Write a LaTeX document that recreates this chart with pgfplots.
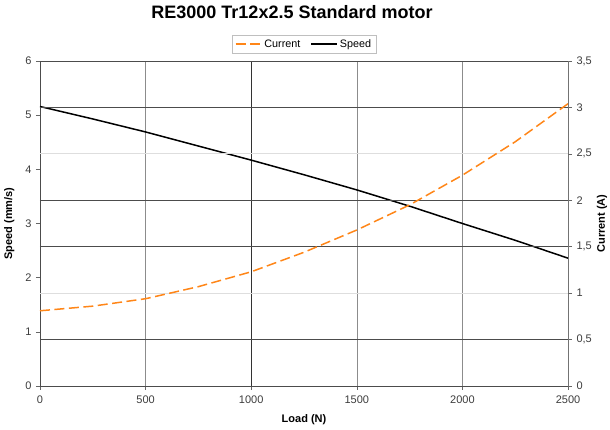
\documentclass[border=0pt]{standalone}
\usepackage{pgfplots}
\pgfplotsset{compat=1.18}
\usepackage{fontspec}
\setmainfont{Liberation Sans}
\definecolor{curorange}{RGB}{255,134,24}
\definecolor{ticktext}{RGB}{60,60,60}
\begin{document}
\begin{tikzpicture}[font=\fontsize{11}{13}\selectfont]
\path[use as bounding box] (-40pt,-44pt) rectangle (570pt,386pt);
\begin{axis}[
  at={(0pt,0pt)}, anchor=south west,
  scale only axis, width=528pt, height=325pt,
  xmin=0, xmax=2500, ymin=0, ymax=6,
  xtick={0,500,1500,2000,2500}, ytick={0,1,...,6},
  extra x ticks={1000}, extra x tick style={major grid style={black!80, line width=0.6pt}},
  /pgf/number format/assume math mode=true,
  /pgf/number format/1000 sep={},
  tick label style={text=ticktext},
  tick align=outside, major tick length=4pt,
  tick style={black!60, line width=0.5pt},
  xtick pos=bottom, ytick pos=left,
  xmajorgrids, major grid style={black!45, line width=0.5pt},
  axis line style={black!70, line width=0.6pt},
  yticklabel style={xshift=-1pt},
  xticklabel style={yshift=-2pt},
  xlabel={\textbf{Load (N)}},
  xlabel style={at={(axis description cs:0.5,0)}, anchor=center, yshift=-34pt},
  ylabel={\textbf{Speed (mm/s)}},
  ylabel style={at={(axis description cs:-0.058,0.5)}, anchor=center},
  title={\textbf{RE3000 Tr12x2.5 Standard motor}},
  title style={at={(axis description cs:0.5,1)}, anchor=center, yshift=43pt, xshift=-12pt, font=\fontsize{18}{21}\selectfont},
]
\addplot[black, line width=1.5pt] coordinates {
(0,5.16) (250,4.93) (500,4.69) (750,4.43) (1000,4.17) (1250,3.90) (1500,3.62) (1750,3.32) (2000,3.00) (2250,2.69) (2500,2.36)
};
\end{axis}
\begin{axis}[
  at={(0pt,0pt)}, anchor=south west,
  scale only axis, width=528pt, height=325pt,
  xmin=0, xmax=2500, ymin=0, ymax=3.5,
  axis x line=none, axis y line*=right,
  ytick={0,0.5,1.5,2,3,3.5},
  extra y ticks={1,2.5},
  extra y tick style={major grid style={black!13, line width=0.8pt}},
  ymajorgrids, major grid style={black!70, line width=0.5pt},
  /pgf/number format/assume math mode=true,
  /pgf/number format/use comma,
  tick label style={text=ticktext},
  tick align=outside, major tick length=4pt,
  tick style={black!60, line width=0.5pt},
  axis line style={black!55, line width=0.8pt},
  yticklabel style={xshift=1pt},
  ylabel={\textbf{Current (A)}},
  ylabel style={at={(axis description cs:1.0644,0.5)}, anchor=center},
  legend style={at={(axis description cs:0.5,1)}, anchor=south, yshift=8pt,
    draw=black!25, font=\fontsize{10.8}{12}\selectfont, legend columns=2,
    /tikz/every even column/.append style={column sep=8pt},
    inner ysep=2pt, inner xsep=3pt},
  legend image code/.code={\draw[#1] (0pt,0pt) -- (26pt,0pt);},
]
\addplot[curorange, line width=1.5pt, dash pattern=on 10pt off 4.5pt] coordinates {
(0,0.81) (250,0.86) (500,0.94) (750,1.07) (1000,1.23) (1250,1.44) (1500,1.68) (1750,1.95) (2000,2.27) (2250,2.63) (2500,3.04)
};
\addlegendentry{Current}
\addlegendimage{black, line width=1.5pt}
\addlegendentry{Speed}
\end{axis}
\end{tikzpicture}
\end{document}
